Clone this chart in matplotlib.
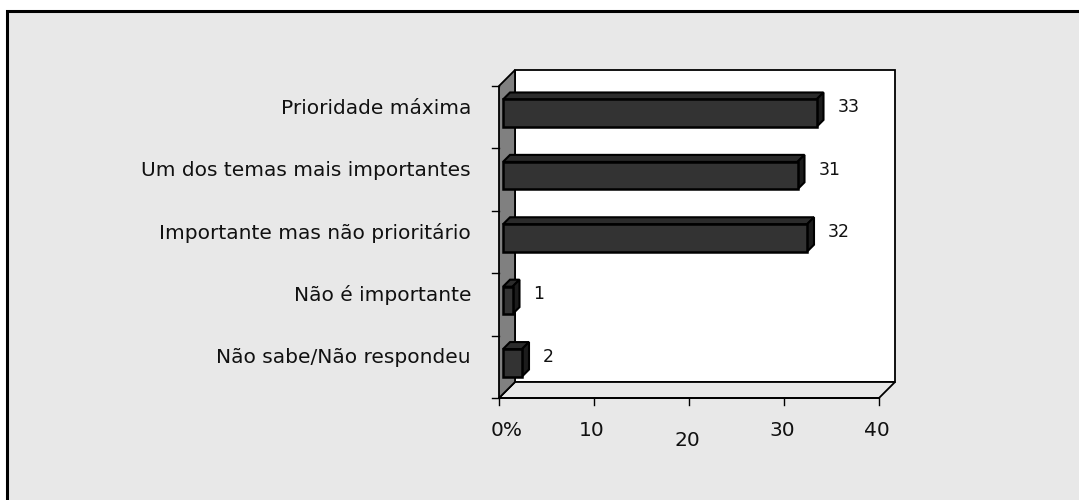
import numpy as np
import matplotlib
matplotlib.use("Agg")
import matplotlib.pyplot as plt
from matplotlib.patches import Polygon, Rectangle

categories = ["Prioridade máxima", "Um dos temas mais importantes",
              "Importante mas não prioritário", "Não é importante",
              "Não sabe/Não respondeu"]
values = [33, 31, 32, 1, 2]
xticks = [0, 10, 20, 30, 40]
xtick_labels = ["0%", "10", "20", "30", "40"]

W, H = 1079, 500
fig = plt.figure(figsize=(W / 100, H / 100), dpi=100)
fig.patch.set_facecolor("white")

# outer frame
frame = Rectangle((7 / W, -0.5), 3, 1.5 - 11 / H,
                  transform=fig.transFigure, facecolor="#e8e8e8",
                  edgecolor="black", linewidth=2.2, zorder=-10)
fig.patches.append(frame)

# front plane of the 3d box, in pixels
x0, x1 = 499, 879
y_top, y_bot = 86, 398
ax = fig.add_axes([x0 / W, 1 - y_bot / H, (x1 - x0) / W, (y_bot - y_top) / H])
ax.set_zorder(5)
ax.set_xlim(0, 40)
ax.set_ylim(-0.5, 4.5)
ax.axis("off")
ax.patch.set_visible(False)

n = len(categories)
ypos = np.arange(n)[::-1]  # first category on top
kx = (x1 - x0) / 40.0
ky = (y_bot - y_top) / 5.0


def dx(px):
    return px / kx


def dy(px):
    return px / ky


D = 16  # wall depth in pixels
lw = 1.3
# back wall
ax.add_patch(Rectangle((dx(D), -0.5 + dy(D)), 40, 5, facecolor="white",
                       edgecolor="black", linewidth=lw, clip_on=False, zorder=1))
# floor
ax.add_patch(Polygon([(0, -0.5), (40, -0.5), (40 + dx(D), -0.5 + dy(D)),
                      (dx(D), -0.5 + dy(D))], closed=True, facecolor="#e8e8e8",
                     edgecolor="black", linewidth=lw, clip_on=False, zorder=1))
# side wall
ax.add_patch(Polygon([(0, -0.5), (dx(D), -0.5 + dy(D)), (dx(D), 4.5 + dy(D)),
                      (0, 4.5)], closed=True, facecolor="#808080",
                     edgecolor="black", linewidth=lw, clip_on=False, zorder=2))
ax.plot([0, 40], [-0.5, -0.5], color="black", lw=lw, clip_on=False, zorder=3)

# ticks
for t in xticks:
    ax.plot([t, t], [-0.5, -0.5 - dy(7)], color="black", lw=1, clip_on=False, zorder=3)
for b in np.arange(-0.5, 5, 1.0):
    ax.plot([0, -dx(7)], [b, b], color="black", lw=1, clip_on=False, zorder=3)

# bars
off = 4   # bar front face offset into the box
bd = 7    # bar depth
bh = 0.44
for y, v in zip(ypos, values):
    xl = dx(off)
    xr = v + dx(off)
    yb = y - bh / 2 + dy(off)
    yt = y + bh / 2 + dy(off)
    top = [(xl, yt), (xr, yt), (xr + dx(bd), yt + dy(bd)), (xl + dx(bd), yt + dy(bd))]
    side = [(xr, yb), (xr + dx(bd), yb + dy(bd)), (xr + dx(bd), yt + dy(bd)), (xr, yt)]
    ax.add_patch(Polygon(top, closed=True, facecolor="#2b2b2b", edgecolor="black",
                         linewidth=1.5, clip_on=False, zorder=4, joinstyle="miter"))
    ax.add_patch(Polygon(side, closed=True, facecolor="#1c1c1c", edgecolor="black",
                         linewidth=1.5, clip_on=False, zorder=4, joinstyle="miter"))
    ax.add_patch(Rectangle((xl, yb), v, yt - yb, facecolor="#333333",
                           edgecolor="black", linewidth=1.8, clip_on=False, zorder=5))
    ax.annotate(str(v), xy=(xr + dx(bd), y), xytext=(14, 10),
                textcoords="offset pixels", ha="left", va="center",
                fontsize=12.5, color="#111111", zorder=6)

fs = 14.5
for y, c in zip(ypos, categories):
    ax.annotate(c, xy=(0, y), xycoords=("axes fraction", "data"),
                xytext=(-28, 9), textcoords="offset pixels",
                ha="right", va="center", fontsize=fs, color="#111111")

for t, lab in zip(xticks, xtick_labels):
    oy = -42 if t == 20 else -32
    ox = 8 if t == 0 else -2
    ax.annotate(lab, xy=(t, 0), xycoords=("data", "axes fraction"),
                xytext=(ox, oy), textcoords="offset pixels",
                ha="center", va="center", fontsize=fs, color="#111111")

fig.savefig("out.png", dpi=100, facecolor=fig.get_facecolor())
